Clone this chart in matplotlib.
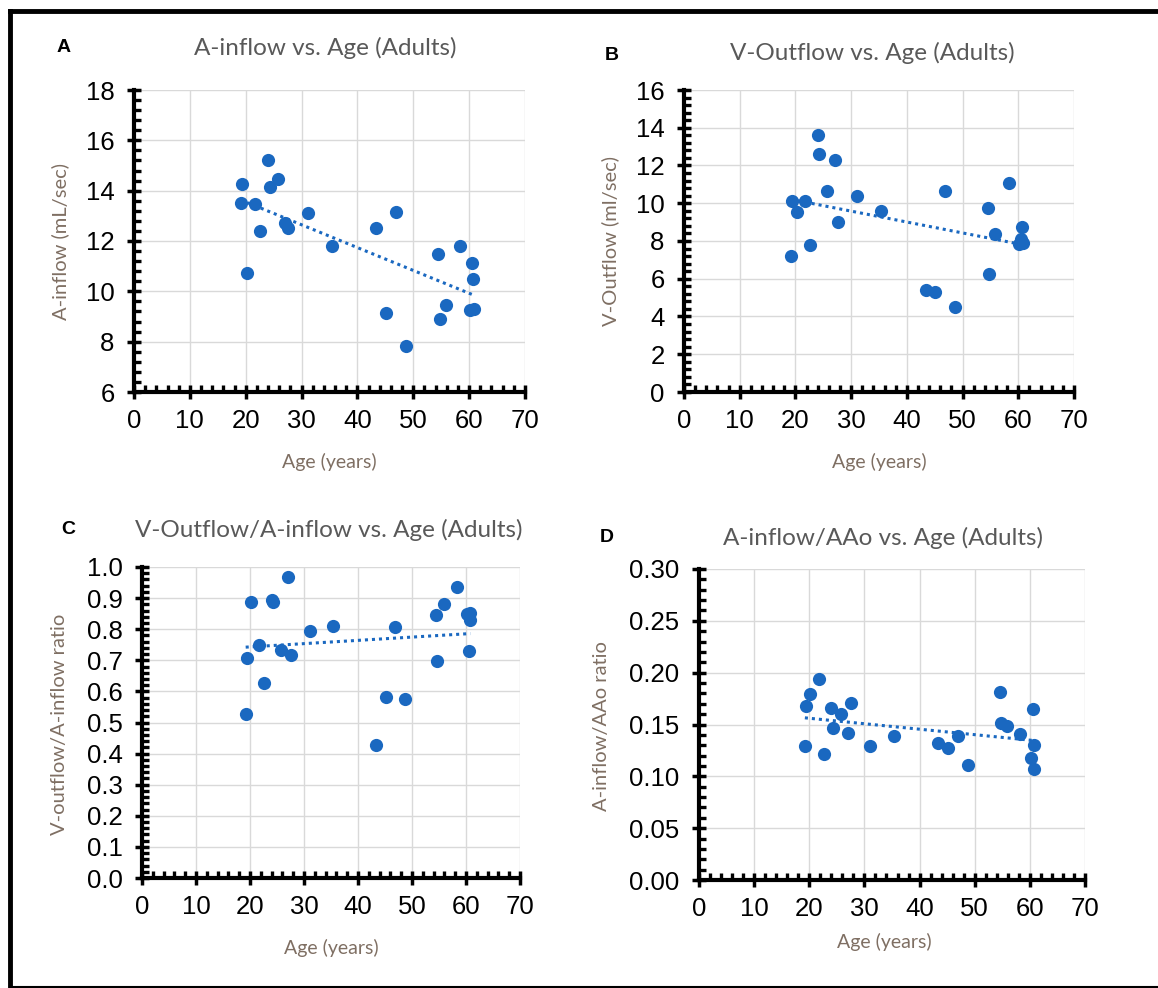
import matplotlib
matplotlib.use("Agg")
import matplotlib.pyplot as plt
from matplotlib.lines import Line2D
from matplotlib.ticker import MultipleLocator, FormatStrFormatter
import numpy as np

# ages of the 24 adult subjects (shared by all four panels)
ages = [19.2, 19.4, 20.2, 21.7, 22.6, 24.0, 24.3, 25.7, 27.1, 27.6, 31.1, 35.4,
        43.4, 45.1, 46.9, 48.7, 54.5, 54.7, 55.9, 58.3, 60.2, 60.5, 60.7, 60.8]

a_inflow = [13.52, 14.26, 10.71, 13.49, 12.39, 15.20, 14.15, 14.46, 12.72, 12.50, 13.13, 11.79,
            12.52, 9.14, 13.15, 7.82, 11.50, 8.89, 9.47, 11.82, 9.25, 11.11, 10.50, 9.30]

v_outflow = [7.18, 10.13, 9.53, 10.12, 7.80, 13.63, 12.62, 10.66, 12.29, 9.02, 10.41, 9.60,
             5.40, 5.31, 10.64, 4.51, 9.74, 6.24, 8.36, 11.06, 7.83, 8.12, 8.72, 7.90]

va_ratio = [0.528, 0.709, 0.889, 0.749, 0.627, 0.895, 0.887, 0.734, 0.967, 0.718, 0.793, 0.811,
            0.429, 0.581, 0.808, 0.577, 0.847, 0.699, 0.882, 0.936, 0.849, 0.730, 0.829, 0.852]

aao_ratio = [0.129, 0.168, 0.179, 0.194, 0.122, 0.166, 0.147, 0.160, 0.142, 0.171, 0.129, 0.139,
             0.132, 0.127, 0.139, 0.111, 0.1815, 0.151, 0.149, 0.141, 0.1175, 0.165, 0.130, 0.1075]

BLUE = '#1a68c0'
GRID = '#d9d9d9'
TITLE_C = '#595959'
LABEL_C = '#7f6f63'
W, H = 1158, 988


def fx(x):
    return x / W


def fy(y):
    return 1 - y / H


def make_panel(box, y, ylim, ymajor, fmt, title, ylabel, letter, pos):
    l, t, r, b = box
    ax = fig.add_axes([fx(l), fy(b), fx(r - l), (b - t) / H])
    ax.set_xlim(0, 70)
    ax.set_ylim(*ylim)
    ax.xaxis.set_major_locator(MultipleLocator(10))
    ax.xaxis.set_minor_locator(MultipleLocator(2))
    ax.yaxis.set_major_locator(MultipleLocator(ymajor))
    ax.yaxis.set_minor_locator(MultipleLocator(ymajor / 5))
    ax.yaxis.set_major_formatter(FormatStrFormatter(fmt))
    ax.grid(True, which='major', color=GRID, lw=1.0, zorder=0)
    ax.set_axisbelow(True)
    for s in ['top', 'right']:
        ax.spines[s].set_visible(False)
    for s in ['left', 'bottom']:
        ax.spines[s].set_linewidth(3)
        ax.spines[s].set_zorder(5)
    ax.tick_params(which='major', direction='inout', length=10, width=2.5,
                   labelsize=18.5)
    ax.tick_params(axis='y', which='major', pad=9)
    ax.tick_params(axis='x', which='major', pad=7)
    ax.tick_params(which='minor', direction='in', length=5, width=2.4)
    for lab in ax.get_xticklabels() + ax.get_yticklabels():
        lab.set_fontfamily('Liberation Sans')

    # linear trendline
    k, c = np.polyfit(ages, y, 1)
    xs = np.array([min(ages), max(ages)])
    ax.plot(xs, k * xs + c, color=BLUE, lw=2.2, linestyle=(0, (1, 1.3)),
            dash_capstyle='butt', zorder=3)
    ax.plot(ages, y, 'o', color=BLUE, ms=9.5, mec='none', zorder=4, clip_on=False)

    (tx, ty), (lx, ly), (xlx, xly), (ylx, yly) = pos
    fig.text(fx(tx), fy(ty), title, ha='center', va='center', fontsize=17.5,
             color=TITLE_C, family='Lato')
    fig.text(fx(lx), fy(ly), letter, ha='center', va='center', fontsize=14,
             weight='bold', family='Liberation Sans')
    fig.text(fx(xlx), fy(xly), 'Age (years)', ha='center', va='center', fontsize=14,
             color=LABEL_C, family='Lato')
    fig.text(fx(ylx), fy(yly), ylabel, ha='center', va='center', fontsize=14.5,
             color=LABEL_C, family='Lato', rotation=90)
    return ax


fig = plt.figure(figsize=(W / 100, H / 100), dpi=100)

make_panel((134, 90, 525, 392), a_inflow, (6, 18), 2, '%d',
           'A-inflow vs. Age (Adults)', 'A-inflow (mL/sec)', 'A',
           [(325, 48), (64, 47), (329, 462), (60, 241)])
make_panel((684, 90, 1074, 392), v_outflow, (0, 16), 2, '%d',
           'V-Outflow vs. Age (Adults)', 'V-Outflow (ml/sec)', 'B',
           [(872, 53), (612, 56), (879, 462), (610, 241)])
make_panel((142, 567, 520, 878), va_ratio, (0, 1.0), 0.1, '%.1f',
           'V-Outflow/A-inflow vs. Age (Adults)', 'V-outflow/A-inflow ratio', 'C',
           [(329, 530), (68, 530), (331, 948), (60, 724)])
make_panel((699, 569, 1085, 880), aao_ratio, (0, 0.30), 0.05, '%.2f',
           'A-inflow/AAo vs. Age (Adults)', 'A-inflow/AAo ratio', 'D',
           [(883, 538), (607, 538), (884, 942), (601, 726)])

# outer frame of the figure
fig.add_artist(Line2D([fx(10), fx(10)], [fy(11), fy(987)], color='black', lw=3.5))
fig.add_artist(Line2D([fx(10), fx(1158)], [fy(11), fy(11)], color='black', lw=3.5))
fig.add_artist(Line2D([fx(10), fx(1158)], [fy(987), fy(987)], color='black', lw=1.5))

fig.savefig('out.png', dpi=100)
